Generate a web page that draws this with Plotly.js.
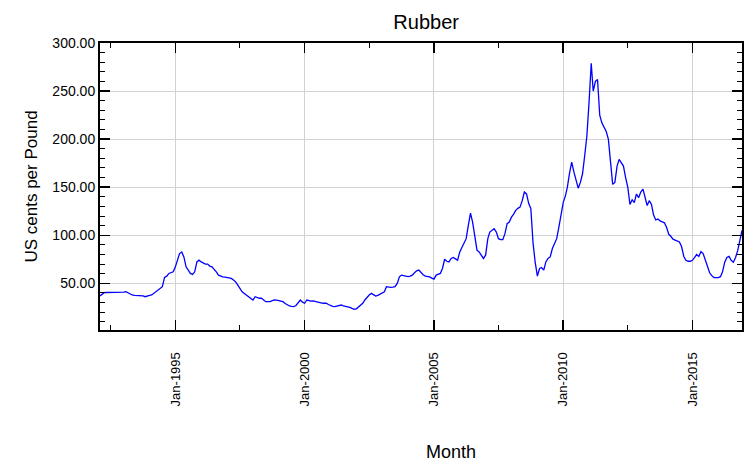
<!DOCTYPE html>
<html>
<head>
<meta charset="utf-8">
<script src="https://cdn.plot.ly/plotly-3.0.1.min.js"></script>
<style>html,body{margin:0;padding:0;background:#fff;}#chart{width:744px;height:462px;}</style>
</head>
<body>
<div id="chart"></div>
<script>
// Monthly series, first month = Feb 1992, last month = Dec 2016
const startYear = 1992;
const startMonth = 2;
const rubberPrice = [
  37, 39, 40.3, 40.5, 40.5, 40.5, 40.4, 40.4, 40.3, 40.5, 40.5, 40.8,
  41.3, 40, 38.5, 37.9, 37.5, 37.5, 37.4, 37.2, 37, 36.1, 37, 37.5,
  37.9, 39.6, 41.5, 43.8, 45, 46.5, 56.2, 57.5, 60.3, 61, 62, 67.2,
  75.9, 81, 82.7, 77.5, 67.2, 63, 60.3, 59.3, 62, 72.3, 74.1, 72.3,
  71, 70, 70, 68, 67.2, 65, 62, 58.6, 57.5, 56.8, 56.5, 56,
  55.5, 55.2, 53.5, 51.6, 48.2, 44, 41.3, 39.5, 37.9, 36, 34, 32.7,
  36.1, 35, 34.5, 34.5, 33, 31, 31, 31, 32, 32.7, 32.5, 32,
  31.5, 31, 29, 27.5, 26.5, 26, 25.8, 27, 29.3, 32.7, 30.5, 29.3,
  32.7, 32, 31.5, 31.7, 31, 30.5, 29.9, 29.5, 29.3, 29.3, 28, 26.8,
  26, 25.8, 26.5, 27, 27.5, 26.5, 26, 25.8, 25, 24, 23.1, 23.5,
  25.8, 27.5, 29.3, 32.7, 35.5, 37.9, 39.6, 38, 36.8, 37.5, 38.6, 40,
  41.3, 46.5, 46, 45.8, 46, 46.5, 50, 56.8, 58.6, 58, 57.2, 57,
  57.5, 58.6, 61, 63, 63.8, 61, 59, 57.5, 57, 56.8, 55.5, 54.4,
  58.6, 59.5, 60.3, 65.5, 75.1, 73, 72.3, 75.9, 76.9, 75.5, 74.1, 82.7,
  88, 93, 96.5, 110, 123, 113.7, 98.2, 84.5, 82.7, 79, 75.9, 79.3,
  96.5, 103.4, 105.2, 106.9, 103.4, 96.5, 95.5, 95.5, 101.7, 112.1, 113.7, 118.9,
  122, 125.9, 128, 129.3, 136, 145, 143, 133, 127.6, 92, 72, 57.5,
  65.5, 66.5, 63.8, 72.3, 75.9, 77.5, 86.2, 91, 96.5, 108.6, 122, 134,
  141, 150, 165, 176, 166, 158, 149, 155, 164, 183, 203, 238,
  279, 250, 260, 262, 225, 217, 212, 208, 200, 175, 153, 155,
  172, 179, 176, 172, 160, 150, 132, 137, 134, 143, 139, 145,
  148, 139, 131, 136, 132, 121, 116, 117, 115, 114, 113, 108,
  101, 99, 96, 95, 94, 93, 88, 78, 74, 73, 73, 74,
  77, 80, 78, 83, 81, 74, 66, 61, 58, 56, 56, 56,
  57, 62, 72, 77, 78, 74, 72, 77, 84, 95, 105
];
const chartTitle = "Rubber";
const xTitle = "Month";
const yTitle = "US cents per Pound";

const months = rubberPrice.map((_, i) => {
  const k = startMonth - 1 + i;
  const y = startYear + Math.floor(k / 12);
  const m = (k % 12) + 1;
  return y + "-" + String(m).padStart(2, "0") + "-01";
});

const font = "Liberation Sans, Arial, sans-serif";

const trace = {
  x: months,
  y: rubberPrice,
  type: "scatter",
  mode: "lines",
  line: {color: "#0000ff", width: 1.3},
  hoverinfo: "x+y"
};

const axisCommon = {
  showline: true,
  linecolor: "#000",
  linewidth: 2,
  mirror: "allticks",
  ticks: "inside",
  ticklen: 10,
  tickwidth: 1.5,
  tickcolor: "#000",
  showgrid: true,
  gridcolor: "#d2d2d2",
  gridwidth: 1,
  zeroline: false,
  tickfont: {family: font, size: 13, color: "#000"}
};

const layout = {
  width: 744,
  height: 462,
  paper_bgcolor: "#fff",
  plot_bgcolor: "#fff",
  margin: {l: 100, r: 2, t: 43, b: 132},
  showlegend: false,
  title: {
    text: chartTitle,
    font: {family: font, size: 20, color: "#000"},
    x: 0.508, xref: "paper", xanchor: "center",
    y: 22, yref: "container", yanchor: "middle"
  },
  xaxis: Object.assign({}, axisCommon, {
    type: "date",
    range: [months[0], months[months.length - 1]],
    tick0: "1995-01-01",
    dtick: "M60",
    tickformat: "%b-%Y",
    tickangle: -90,
    ticklabelstandoff: 15,
    minor: {dtick: "M30", tick0: "1992-07-01", ticks: "inside", ticklen: 5, tickcolor: "#000", tickwidth: 1, showgrid: false}
  }),
  yaxis: Object.assign({}, axisCommon, {
    range: [1.5, 300],
    tick0: 0,
    dtick: 50,
    tickformat: ".2f",
    tickfont: {family: font, size: 14, color: "#000"},
    minor: {dtick: 10, ticks: "inside", ticklen: 5, tickcolor: "#000", tickwidth: 1, showgrid: false},
    title: {text: yTitle, font: {family: font, size: 17, color: "#000"}, standoff: 10}
  }),
  annotations: [
    {text: xTitle, xref: "paper", yref: "paper", x: 0.547, y: -0.425,
     xanchor: "center", yanchor: "middle", showarrow: false,
     font: {family: font, size: 18, color: "#000"}}
  ]
};

Plotly.newPlot("chart", [trace], layout, {displayModeBar: false, staticPlot: true});
</script>
</body>
</html>
